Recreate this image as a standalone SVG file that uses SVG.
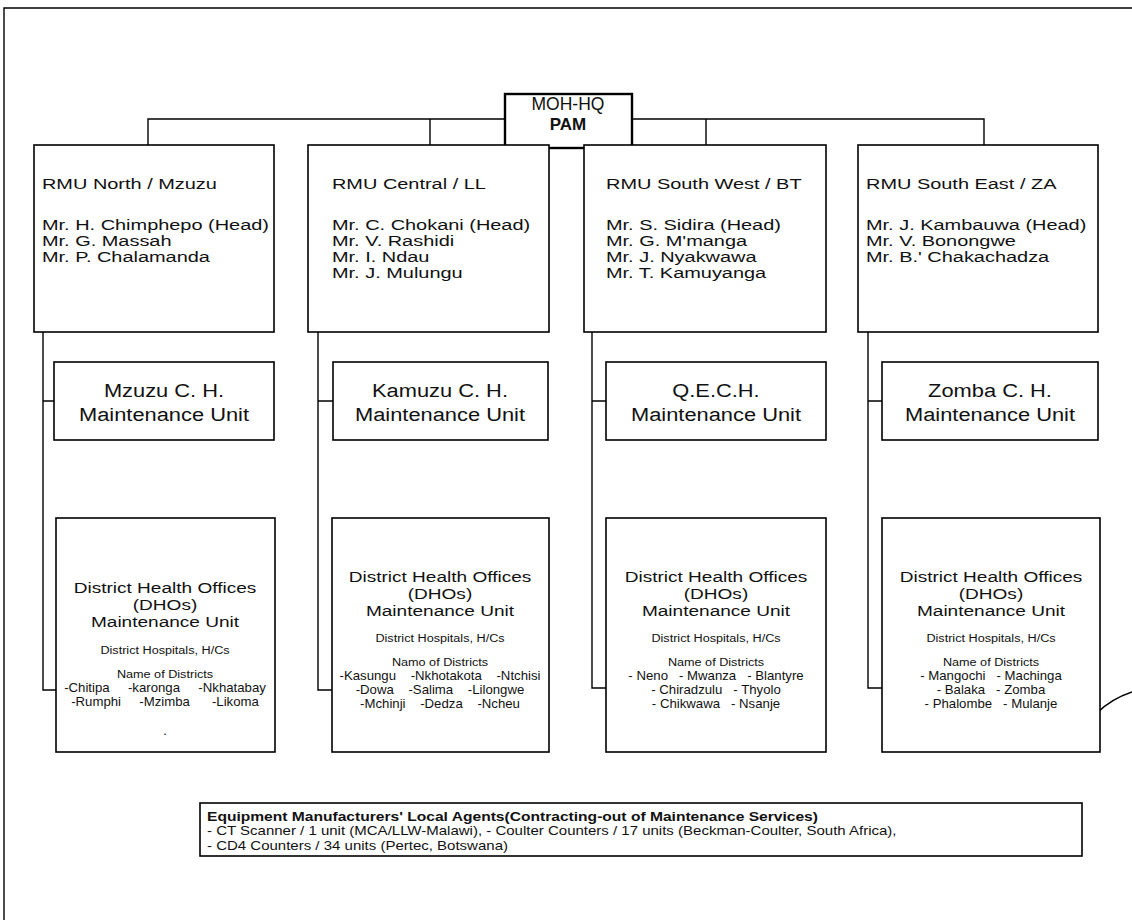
<svg xmlns="http://www.w3.org/2000/svg" width="1132" height="920" viewBox="0 0 1132 920">
<style>
  .box { fill: #fff; stroke: #000; stroke-width: 1.6; }
  .thick { fill: #fff; stroke: #000; stroke-width: 2.4; }
  .ln { fill: none; stroke: #000; stroke-width: 1.4; }
  text { font-family: "Liberation Sans", Arial, sans-serif; fill: #111; }
  .rmu { font-size: 15px; }
  .mu { font-size: 19px; text-anchor: middle; }
  .dho { font-size: 15px; text-anchor: middle; }
  .sm { font-size: 11.5px; text-anchor: middle; }
  .xs { font-size: 12px; text-anchor: middle; }
  .bot { font-size: 13px; }
</style>
<rect width="1132" height="920" fill="#fff"/>
<path class="ln" d="M4,920 V8 H1132" stroke-width="2"/>
<g id="connectors">
  <path class="ln" d="M148,145 V119 H505 M632,119 H984 V145 M430,119 V145 M706,119 V145"/>
  <path class="ln" d="M43,332 V690 H56 M43,401 H54"/>
  <path class="ln" d="M318,332 V690 H332 M318,401 H333"/>
  <path class="ln" d="M592,332 V688 H606 M592,401 H606"/>
  <path class="ln" d="M868,332 V688 H882 M868,401 H882"/>
  <path class="ln" d="M1097,713 Q1111,699 1132,692"/>
</g>
<g id="moh">
  <rect class="thick" x="505" y="94" width="127" height="54"/>
  <text x="568" y="110" font-size="17.5" text-anchor="middle">MOH-HQ</text>
  <text x="568" y="130" font-size="17" font-weight="bold" text-anchor="middle">PAM</text>
</g>
<g id="rmu-north">
  <rect class="box" x="34" y="145" width="240" height="187"/>
  <g transform="matrix(1.33,0,0,1,-13.86,0)">
    <text class="rmu" x="42" y="189">RMU North / Mzuzu</text>
    <text class="rmu" x="42" y="230">Mr. H. Chimphepo (Head)</text>
    <text class="rmu" x="42" y="246">Mr. G. Massah</text>
    <text class="rmu" x="42" y="262">Mr. P. Chalamanda</text>
  </g>
</g>
<g id="rmu-central">
  <rect class="box" x="308" y="145" width="241" height="187"/>
  <g transform="matrix(1.33,0,0,1,-109.56,0)">
    <text class="rmu" x="332" y="189">RMU Central / LL</text>
    <text class="rmu" x="332" y="230">Mr. C. Chokani (Head)</text>
    <text class="rmu" x="332" y="246">Mr. V. Rashidi</text>
    <text class="rmu" x="332" y="262">Mr. I. Ndau</text>
    <text class="rmu" x="332" y="278">Mr. J. Mulungu</text>
  </g>
</g>
<g id="rmu-southwest">
  <rect class="box" x="584" y="145" width="242" height="187"/>
  <g transform="matrix(1.33,0,0,1,-199.98,0)">
    <text class="rmu" x="606" y="189">RMU South West / BT</text>
    <text class="rmu" x="606" y="230">Mr. S. Sidira (Head)</text>
    <text class="rmu" x="606" y="246">Mr. G. M'manga</text>
    <text class="rmu" x="606" y="262">Mr. J. Nyakwawa</text>
    <text class="rmu" x="606" y="278">Mr. T. Kamuyanga</text>
  </g>
</g>
<g id="rmu-southeast">
  <rect class="box" x="858" y="145" width="240" height="187"/>
  <g transform="matrix(1.33,0,0,1,-285.78,0)">
    <text class="rmu" x="866" y="189">RMU South East / ZA</text>
    <text class="rmu" x="866" y="230">Mr. J. Kambauwa (Head)</text>
    <text class="rmu" x="866" y="246">Mr. V. Bonongwe</text>
    <text class="rmu" x="866" y="262">Mr. B.' Chakachadza</text>
  </g>
</g>
<g id="mu-north">
  <rect class="box" x="54" y="362" width="220" height="78"/>
  <g transform="matrix(1.15,0,0,1,-24.6,0)">
    <text class="mu" x="164" y="397">Mzuzu C. H.</text>
    <text class="mu" x="164" y="421">Maintenance Unit</text>
  </g>
</g>
<g id="mu-central">
  <rect class="box" x="333" y="362" width="215" height="78"/>
  <g transform="matrix(1.15,0,0,1,-66,0)">
    <text class="mu" x="440" y="397">Kamuzu C. H.</text>
    <text class="mu" x="440" y="421">Maintenance Unit</text>
  </g>
</g>
<g id="mu-southwest">
  <rect class="box" x="606" y="362" width="220" height="78"/>
  <g transform="matrix(1.15,0,0,1,-107.4,0)">
    <text class="mu" x="716" y="397">Q.E.C.H.</text>
    <text class="mu" x="716" y="421">Maintenance Unit</text>
  </g>
</g>
<g id="mu-southeast">
  <rect class="box" x="882" y="362" width="216" height="78"/>
  <g transform="matrix(1.15,0,0,1,-148.5,0)">
    <text class="mu" x="990" y="397">Zomba C. H.</text>
    <text class="mu" x="990" y="421">Maintenance Unit</text>
  </g>
</g>
<g id="dho-north">
  <rect class="box" x="56" y="518" width="219" height="234"/>
  <g transform="matrix(1.27,0,0,1,-44.55,0)">
    <text class="dho" x="165" y="593">District Health Offices</text>
    <text class="dho" x="165" y="610">(DHOs)</text>
    <text class="dho" x="165" y="627">Maintenance Unit</text>
  </g>
  <g transform="matrix(1.1,0,0,1,-16.5,0)">
    <text class="sm" x="165" y="654">District Hospitals, H/Cs</text>
    <text class="sm" x="165" y="678">Name of Districts</text>
    <text class="xs" x="165" y="692" xml:space="preserve">-Chitipa     -karonga     -Nkhatabay</text>
    <text class="xs" x="165" y="706" xml:space="preserve">-Rumphi     -Mzimba      -Likoma</text>
    <text class="xs" x="165" y="735">.</text>
  </g>
</g>
<g id="dho-central">
  <rect class="box" x="332" y="518" width="217" height="234"/>
  <g transform="matrix(1.27,0,0,1,-118.8,0)">
    <text class="dho" x="440" y="582">District Health Offices</text>
    <text class="dho" x="440" y="599">(DHOs)</text>
    <text class="dho" x="440" y="616">Maintenance Unit</text>
  </g>
  <g transform="matrix(1.1,0,0,1,-44,0)">
    <text class="sm" x="440" y="642">District Hospitals, H/Cs</text>
    <text class="sm" x="440" y="666">Namo of Districts</text>
    <text class="xs" x="440" y="680" xml:space="preserve">-Kasungu    -Nkhotakota    -Ntchisi</text>
    <text class="xs" x="440" y="694" xml:space="preserve">-Dowa    -Salima    -Lilongwe</text>
    <text class="xs" x="440" y="708" xml:space="preserve">-Mchinji    -Dedza    -Ncheu</text>
  </g>
</g>
<g id="dho-southwest">
  <rect class="box" x="606" y="518" width="220" height="234"/>
  <g transform="matrix(1.27,0,0,1,-193.32,0)">
    <text class="dho" x="716" y="582">District Health Offices</text>
    <text class="dho" x="716" y="599">(DHOs)</text>
    <text class="dho" x="716" y="616">Maintenance Unit</text>
  </g>
  <g transform="matrix(1.1,0,0,1,-71.6,0)">
    <text class="sm" x="716" y="642">District Hospitals, H/Cs</text>
    <text class="sm" x="716" y="666">Name of Districts</text>
    <text class="xs" x="716" y="680" xml:space="preserve">- Neno   - Mwanza   - Blantyre</text>
    <text class="xs" x="716" y="694" xml:space="preserve">- Chiradzulu   - Thyolo</text>
    <text class="xs" x="716" y="708" xml:space="preserve">- Chikwawa   - Nsanje</text>
  </g>
</g>
<g id="dho-southeast">
  <rect class="box" x="882" y="518" width="218" height="234"/>
  <g transform="matrix(1.27,0,0,1,-267.57,0)">
    <text class="dho" x="991" y="582">District Health Offices</text>
    <text class="dho" x="991" y="599">(DHOs)</text>
    <text class="dho" x="991" y="616">Maintenance Unit</text>
  </g>
  <g transform="matrix(1.1,0,0,1,-99.1,0)">
    <text class="sm" x="991" y="642">District Hospitals, H/Cs</text>
    <text class="sm" x="991" y="666">Name of Districts</text>
    <text class="xs" x="991" y="680" xml:space="preserve">- Mangochi   - Machinga</text>
    <text class="xs" x="991" y="694" xml:space="preserve">- Balaka   - Zomba</text>
    <text class="xs" x="991" y="708" xml:space="preserve">- Phalombe   - Mulanje</text>
  </g>
</g>
<g id="agents">
  <rect class="box" x="200" y="803" width="882" height="53"/>
  <text class="bot" x="207" y="821" font-weight="bold" transform="matrix(1.2,0,0,1,-41.4,0)">Equipment Manufacturers' Local Agents(Contracting-out of Maintenance Services)</text>
  <g transform="matrix(1.155,0,0,1,-32.085,0)">
    <text class="bot" x="207" y="835.5">- CT Scanner / 1 unit (MCA/LLW-Malawi), - Coulter Counters / 17 units (Beckman-Coulter, South Africa),</text>
    <text class="bot" x="207" y="850">- CD4 Counters / 34 units (Pertec, Botswana)</text>
  </g>
</g>
</svg>
